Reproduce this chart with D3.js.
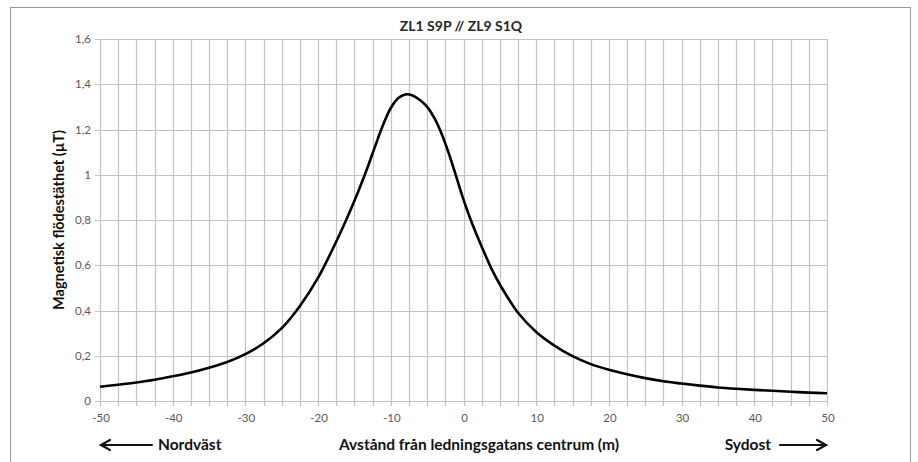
<!DOCTYPE html>
<html><head><meta charset="utf-8">
<script src="https://cdn.jsdelivr.net/npm/d3@7"></script>
<style>body{margin:0;background:#fff;}svg{display:block;font-family:Lato,"Open Sans",sans-serif;}</style>
</head><body><svg id="c" width="918" height="462"></svg>
<script>
const title = "ZL1 S9P // ZL9 S1Q";
const yTitle = "Magnetisk flödestäthet (µT)";
const xTitle = "Avstånd från ledningsgatans centrum (m)";
const leftLabel = "Nordväst";
const rightLabel = "Sydost";
const distance = [-50,-47.5,-45,-42.5,-40,-37.5,-35,-32.5,-30,-27.5,-25,-22.5,-20,-17.5,-16,-15,-14,-13,-12,-11,-10,-9,-8,-7,-6,-5,-4,-3,-2,-1,0,1,2,3,4,5,6,7.5,10,12.5,15,17.5,20,22.5,25,27.5,30,32.5,35,37.5,40,42.5,45,47.5,50];
const flux = [0.063,0.072,0.082,0.094,0.109,0.126,0.147,0.172,0.207,0.255,0.322,0.420,0.545,0.705,0.810,0.885,0.965,1.050,1.140,1.225,1.295,1.338,1.355,1.350,1.330,1.300,1.250,1.180,1.092,0.992,0.890,0.800,0.720,0.645,0.575,0.515,0.462,0.390,0.305,0.245,0.198,0.163,0.138,0.118,0.101,0.087,0.077,0.068,0.060,0.054,0.049,0.045,0.041,0.037,0.034];
const xTicks = [-50,-40,-30,-20,-10,0,10,20,30,40,50];
const yTicks = [0,0.2,0.4,0.6,0.8,1,1.2,1.4,1.6];

const svg = d3.select("#c");
const x = d3.scaleLinear().domain([-50,50]).range([100,827]);
const y = d3.scaleLinear().domain([0,1.6]).range([401,39]);
const fmt = d => String(d).replace(".", ",");

svg.append("rect").attr("x",10.5).attr("y",7.5).attr("width",900).attr("height",470)
  .attr("fill","none").attr("stroke","#9a9a9a").attr("stroke-width",1);

const grid = "#c2c2c2";
const minor = d3.range(-50,50.01,2.5);
svg.append("g").selectAll("line").data(minor).join("line")
  .attr("x1",d=>Math.round(x(d))+0.5).attr("x2",d=>Math.round(x(d))+0.5)
  .attr("y1",y(1.6)).attr("y2",y(0)+5)
  .attr("stroke",grid).attr("stroke-width",1.2);
svg.append("g").selectAll("line").data(yTicks).join("line")
  .attr("x1",x(-50)-5).attr("x2",x(50))
  .attr("y1",d=>Math.round(y(d))+0.5).attr("y2",d=>Math.round(y(d))+0.5)
  .attr("stroke",grid).attr("stroke-width",1.2);

svg.append("g").selectAll("text").data(yTicks).join("text")
  .attr("x",x(-50)-9).attr("y",d=>y(d)).attr("dy","0.35em")
  .attr("text-anchor","end").attr("font-size",11.5).attr("fill","#595959")
  .text(fmt);
svg.append("g").selectAll("text").data(xTicks).join("text")
  .attr("x",d=>x(d)+1).attr("y",y(0)+21)
  .attr("text-anchor","middle").attr("font-size",11.5).attr("fill","#595959")
  .text(fmt);

const line = d3.line().x((d,i)=>x(distance[i])).y(d=>y(d)).curve(d3.curveCatmullRom.alpha(0.5));
svg.append("path").datum(flux).attr("d",line)
  .attr("fill","none").attr("stroke","#000").attr("stroke-width",2.6);

svg.append("text").attr("x",461).attr("y",31).attr("text-anchor","middle")
  .attr("font-size",14).attr("font-weight","bold").attr("fill","#262626").text(title);
svg.append("text").attr("transform",`translate(64,${(y(0)+y(1.6))/2}) rotate(-90)`)
  .attr("text-anchor","middle").attr("font-size",14.5).attr("font-weight","bold").attr("fill","#111").text(yTitle);

const by = 450;
svg.append("text").attr("x",158).attr("y",by).attr("font-size",15.5).attr("font-weight","bold").attr("fill","#111").text(leftLabel);
svg.append("text").attr("x",479).attr("y",by).attr("text-anchor","middle").attr("font-size",15.5).attr("font-weight","bold").attr("fill","#111").text(xTitle);
svg.append("text").attr("x",771).attr("y",by).attr("text-anchor","end").attr("font-size",15.5).attr("font-weight","bold").attr("fill","#111").text(rightLabel);

const ay = 445;
const ag = svg.append("g").attr("stroke","#111").attr("stroke-width",2.2).attr("fill","none").attr("stroke-linecap","round");
ag.append("line").attr("x1",x(-50)+1).attr("x2",152).attr("y1",ay).attr("y2",ay);
ag.append("path").attr("d",`M${x(-50)+10},${ay-5} L${x(-50)+1},${ay} L${x(-50)+10},${ay+5}`);
ag.append("line").attr("x1",780).attr("x2",x(50)-1).attr("y1",ay).attr("y2",ay);
ag.append("path").attr("d",`M${x(50)-10},${ay-5} L${x(50)-1},${ay} L${x(50)-10},${ay+5}`);
</script></body></html>
